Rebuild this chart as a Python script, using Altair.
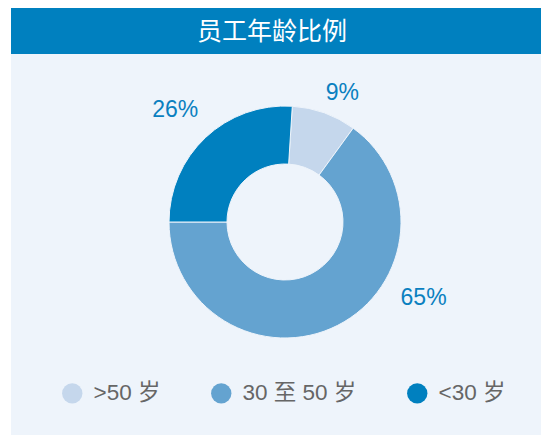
import math
import altair as alt
import pandas as pd

# ---- data ----
categories = [">50 岁", "30 至 50 岁", "<30 岁"]
shares = [9, 65, 26]
pct_labels = ["9%", "65%", "26%"]
stack_order = [1, 2, 0]          # pie starts at 9 o'clock with "<30 岁"
colors = ["#c5d7ec", "#64a3d0", "#0080bf"]
title_text = "员工年龄比例"

df = pd.DataFrame({"cat": categories, "share": shares, "label": pct_labels, "ord": stack_order})
one = pd.DataFrame({"t": [title_text]})

FONT = "Liberation Sans, Noto Sans CJK SC"
W, H = 530, 427
CX, CY = 274, 214
BAR = "#0080bf"
PANEL = "#eef4fb"
START = 1.5 * math.pi
THETA_RANGE = [START, START + 2 * math.pi]

title_bar = alt.Chart(one).mark_rect(color=BAR).encode(
    x=alt.value(0), x2=alt.value(W), y=alt.value(0), y2=alt.value(46)
)
title_txt = alt.Chart(one).mark_text(
    font=FONT, fontSize=25, color="white", align="center", baseline="middle"
).encode(x=alt.value(261), y=alt.value(24), text="t:N")

arcs = alt.Chart(df).mark_arc(
    innerRadius=58, outerRadius=116, stroke=PANEL, strokeWidth=1
).encode(
    theta=alt.Theta("share:Q", stack=True, scale=alt.Scale(range=THETA_RANGE)),
    order=alt.Order("ord:Q"),
    color=alt.Color(
        "cat:N",
        scale=alt.Scale(domain=categories, range=colors),
        legend=alt.Legend(
            title=None, orient="none", legendX=50, legendY=374,
            direction="horizontal", symbolType="circle", symbolSize=415,
            symbolStrokeWidth=0, labelFontSize=22.5, labelColor="#666666",
            labelFont=FONT, labelOffset=10, columnPadding=49, padding=0,
        ),
    ),
    x=alt.value(CX), y=alt.value(CY),
)

label_base = alt.Chart(df).transform_window(
    cum="sum(share)", sort=[alt.SortField("ord")]
).transform_calculate(mid="datum.cum - datum.share / 2")

# per-label nudges (pixels) from the mid-angle position
offsets = {1: (10, 3), 2: (75, -49), 0: (-14, -10)}
label_layers = []
for i, (dx, dy) in offsets.items():
    label_layers.append(
        label_base.transform_filter(alt.datum.ord == i).mark_text(
            font=FONT, fontSize=23, color="#0a80c0", align="center",
            baseline="middle", dx=dx, dy=dy
        ).encode(
            theta=alt.Theta("mid:Q", stack=None,
                            scale=alt.Scale(domain=[0, 100], range=THETA_RANGE)),
            radius=alt.value(140),
            x=alt.value(CX), y=alt.value(CY),
            text="label:N",
        )
    )

chart = alt.layer(title_bar, title_txt, arcs, *label_layers).properties(
    width=W, height=H,
    padding={"left": 3, "top": 0, "right": 0, "bottom": 0},
    autosize=alt.AutoSizeParams(type="none"),
    background="white",
).configure_view(fill=PANEL, stroke=None).resolve_scale(theta="independent")

chart.save("out.html", embed_options={"renderer": "svg", "actions": False})
